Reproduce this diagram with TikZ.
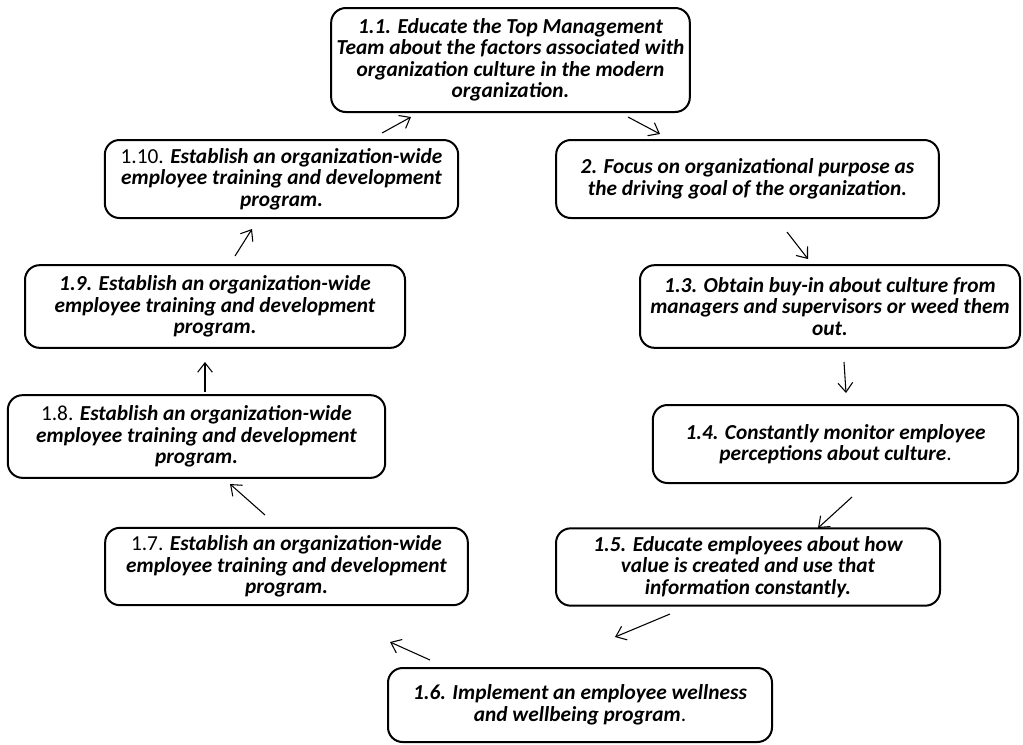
\documentclass[tikz,border=0pt]{standalone}
\usepackage{fontspec}
\setmainfont{Carlito}
\usetikzlibrary{arrows.meta}
\definecolor{BoxClr}{rgb}{0,0,0}
\tikzset{
  StepBox/.style={draw=BoxClr,line width=1.5pt,rounded corners=11pt,align=center,
    inner xsep=0pt,inner ysep=0pt,font=\fontsize{16}{16.1}\selectfont\bfseries\itshape},
  StepArrow/.style={line width=0.8pt,-{Straight Barb[length=7pt,width=11pt,line width=0.8pt]}}
}

\begin{document}
\begin{tikzpicture}[x=0.75pt,y=-0.75pt]
\useasboundingbox (0,0) rectangle (1023,744);

\node[StepBox,minimum width=269pt,minimum height=78pt] (S11) at (510.5,60)
  {1.1. Educate the Top Management\\Team about the factors associated with\\organization culture in the modern\\organization.};
\node[StepBox,minimum width=265pt,minimum height=58.5pt] (S110) at (281.5,179)
  {\textnormal{1.10.} Establish an organization-wide\\employee training and development\\program.};
\node[StepBox,minimum width=287pt,minimum height=58.5pt] (S2) at (747.5,179)
  {2. Focus on organizational purpose as\\the driving goal of the organization.};
\node[StepBox,minimum width=285pt,minimum height=62pt] (S13) at (830,306.5)
  {1.3. Obtain buy-in about culture from\\managers and supervisors or weed them\\out.};
\node[StepBox,minimum width=285pt,minimum height=62pt] (S19) at (215,306.5)
  {1.9. Establish an organization-wide\\employee training and development\\program.};
\node[StepBox,minimum width=283pt,minimum height=62pt] (S18) at (196.5,436.5)
  {\textnormal{1.8.} Establish an organization-wide\\employee training and development\\program.};
\node[StepBox,minimum width=274pt,minimum height=58.5pt] (S14) at (835.5,444)
  {1.4. Constantly monitor employee\\perceptions about culture\textnormal{.}};
\node[StepBox,minimum width=272pt,minimum height=58pt] (S17) at (286.5,566.5)
  {\textnormal{1.7.} Establish an organization-wide\\employee training and development\\program.};
\node[StepBox,minimum width=288pt,minimum height=58pt] (S15) at (748,567)
  {1.5. Educate employees about how\\value is created and use that\\information constantly.};
\node[StepBox,minimum width=288pt,minimum height=55.5pt] (S16) at (580,705)
  {1.6. Implement an employee wellness\\and wellbeing program\textnormal{.}};

% arrow ends between the boxes
\coordinate (A1) at (382,133);  \coordinate (B1) at (411,117);
\coordinate (A2) at (628,117);  \coordinate (B2) at (660,134);
\coordinate (A3) at (787,232);  \coordinate (B3) at (808,259);
\coordinate (A4) at (844,362);  \coordinate (B4) at (846,393);
\coordinate (A5) at (852,497);  \coordinate (B5) at (818,528);
\coordinate (A6) at (670,614);  \coordinate (B6) at (615,637);
\coordinate (A7) at (430,660);  \coordinate (B7) at (390,642);
\coordinate (A8) at (265,515);  \coordinate (B8) at (230,484);
\coordinate (A9) at (205,392);  \coordinate (B9) at (205,362);
\coordinate (A10) at (235,256); \coordinate (B10) at (252,229);

\foreach \i in {1,...,10}
  \draw[StepArrow] (A\i) -- (B\i);

\end{tikzpicture}
\end{document}
